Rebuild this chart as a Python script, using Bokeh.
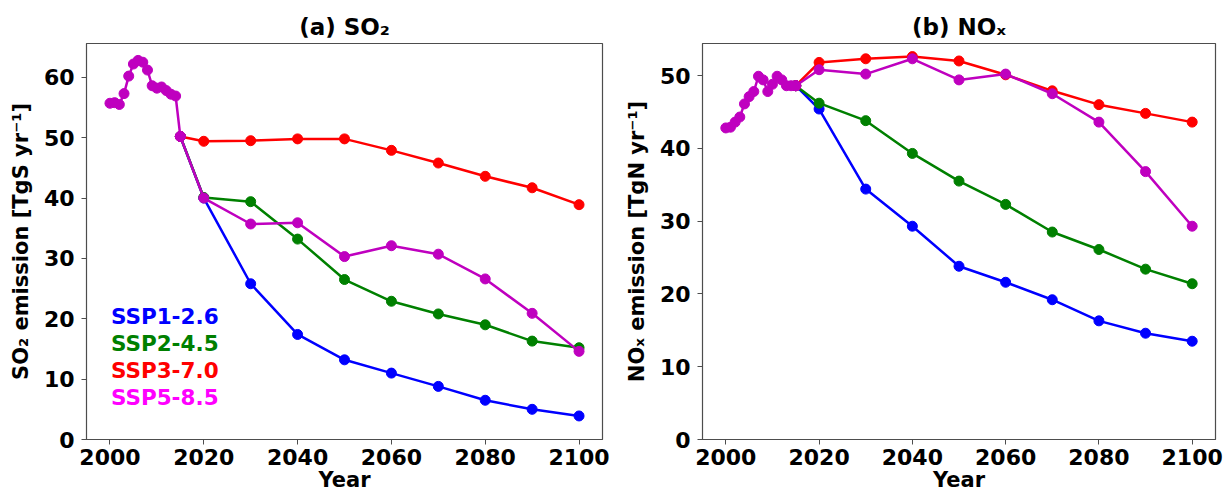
from bokeh.plotting import figure
from bokeh.layouts import row
from bokeh.models import Range1d, FixedTicker, Label
from bokeh.embed import file_html
from bokeh.resources import INLINE

# ---------------- data ----------------
hist_years = list(range(2000, 2016))
so2_hist = [55.7, 55.8, 55.5, 57.3, 60.2, 62.2, 62.8, 62.5, 61.2, 58.6, 58.2, 58.4, 57.8, 57.2, 56.9, 50.2]
nox_hist = [42.8, 42.9, 43.6, 44.3, 46.1, 47.1, 47.8, 49.9, 49.4, 47.8, 48.8, 49.9, 49.4, 48.6, 48.6, 48.6]

fut_years = [2015, 2020, 2030, 2040, 2050, 2060, 2070, 2080, 2090, 2100]
scenarios = ["SSP1-2.6", "SSP2-4.5", "SSP3-7.0", "SSP5-8.5"]

so2_ssp126 = [50.2, 40.0, 25.8, 17.4, 13.2, 11.0, 8.8, 6.5, 5.0, 3.9]
so2_ssp245 = [50.2, 40.1, 39.4, 33.2, 26.5, 22.9, 20.8, 19.0, 16.3, 15.2]
so2_ssp370 = [50.2, 49.4, 49.5, 49.8, 49.8, 47.9, 45.8, 43.6, 41.7, 38.9]
so2_ssp585 = [50.2, 40.0, 35.7, 35.9, 30.3, 32.1, 30.7, 26.6, 20.9, 14.6]

nox_ssp126 = [48.6, 45.4, 34.4, 29.3, 23.8, 21.6, 19.2, 16.3, 14.6, 13.5]
nox_ssp245 = [48.6, 46.2, 43.8, 39.3, 35.5, 32.3, 28.5, 26.1, 23.4, 21.4]
nox_ssp370 = [48.6, 51.8, 52.3, 52.6, 52.0, 50.1, 47.9, 46.0, 44.8, 43.6]
nox_ssp585 = [48.6, 50.8, 50.2, 52.3, 49.4, 50.2, 47.5, 43.6, 36.8, 29.3]

x_ticks = [2000, 2020, 2040, 2060, 2080, 2100]
so2_yticks = [0, 10, 20, 30, 40, 50, 60]
nox_yticks = [0, 10, 20, 30, 40, 50]

# ---------------- style ----------------
line_colors = ["#0000ff", "#008000", "#ff0000", "#bf00bf"]
text_colors = ["#0000ff", "#008000", "#ff0000", "#ff00ff"]
FONT = "DejaVu Sans"
FRAME = "#4d4d4d"


def make_panel(title, ylabel, hist, series, yticks, ymax, width, bl, br):
    p = figure(width=width, height=495, output_backend="svg", toolbar_location=None,
               x_range=Range1d(1995, 2105), y_range=Range1d(0, ymax),
               min_border_left=bl, min_border_right=br, min_border_top=43, min_border_bottom=56)
    p.title.text = title
    p.title.align = "center"
    p.title.text_font = FONT
    p.title.text_font_size = "23px"
    p.title.text_font_style = "bold"
    p.title.text_color = "black"
    p.title.standoff = 8
    p.grid.visible = False
    p.outline_line_color = FRAME
    p.outline_line_width = 1.2
    p.background_fill_color = "white"
    p.border_fill_color = "white"

    for ax in (p.xaxis[0], p.yaxis[0]):
        ax.major_label_text_font = FONT
        ax.major_label_text_font_size = "22px"
        ax.major_label_text_font_style = "bold"
        ax.major_label_text_color = "black"
        ax.axis_label_text_font = FONT
        ax.axis_label_text_font_size = "21px"
        ax.axis_label_text_font_style = "bold"
        ax.axis_label_text_color = "black"
        ax.major_tick_out = 5
        ax.major_tick_in = 0
        ax.minor_tick_out = 0
        ax.minor_tick_in = 0
        ax.axis_line_color = FRAME
        ax.major_tick_line_color = FRAME
    p.xaxis[0].ticker = FixedTicker(ticks=x_ticks)
    p.yaxis[0].ticker = FixedTicker(ticks=yticks)
    p.xaxis[0].axis_label = "Year"
    p.yaxis[0].axis_label = ylabel
    p.xaxis[0].major_label_standoff = 4
    p.xaxis[0].axis_label_standoff = 0
    p.yaxis[0].major_label_standoff = 7
    p.yaxis[0].axis_label_standoff = 8

    for vals, col in zip(series, line_colors):
        p.line(fut_years, vals, line_color=col, line_width=2.5)
        p.scatter(fut_years, vals, size=10, fill_color=col, line_color=col)
    p.line(hist_years, hist, line_color=line_colors[3], line_width=2.5)
    p.scatter(hist_years, hist, size=10, fill_color=line_colors[3], line_color=line_colors[3])
    return p


pa = make_panel("(a) SO\u2082", "SO\u2082 emission [TgS yr\u207b\u00b9]", so2_hist,
                [so2_ssp126, so2_ssp245, so2_ssp370, so2_ssp585], so2_yticks, 65.6, 620, 86, 18)
pb = make_panel("(b) NO\u2093", "NO\u2093 emission [TgN yr\u207b\u00b9]", nox_hist,
                [nox_ssp126, nox_ssp245, nox_ssp370, nox_ssp585], nox_yticks, 54.4, 605, 82, 10)

legend_y = [20.4, 15.9, 11.4, 7.0]
for name, col, yy in zip(scenarios, text_colors, legend_y):
    pa.add_layout(Label(x=2000.2, y=yy, text=name, text_color=col, text_font=FONT,
                        text_font_size="21.5px", text_font_style="bold", text_baseline="middle"))

layout = row(pa, pb)
open("out.html", "w").write(file_html(layout, INLINE))
